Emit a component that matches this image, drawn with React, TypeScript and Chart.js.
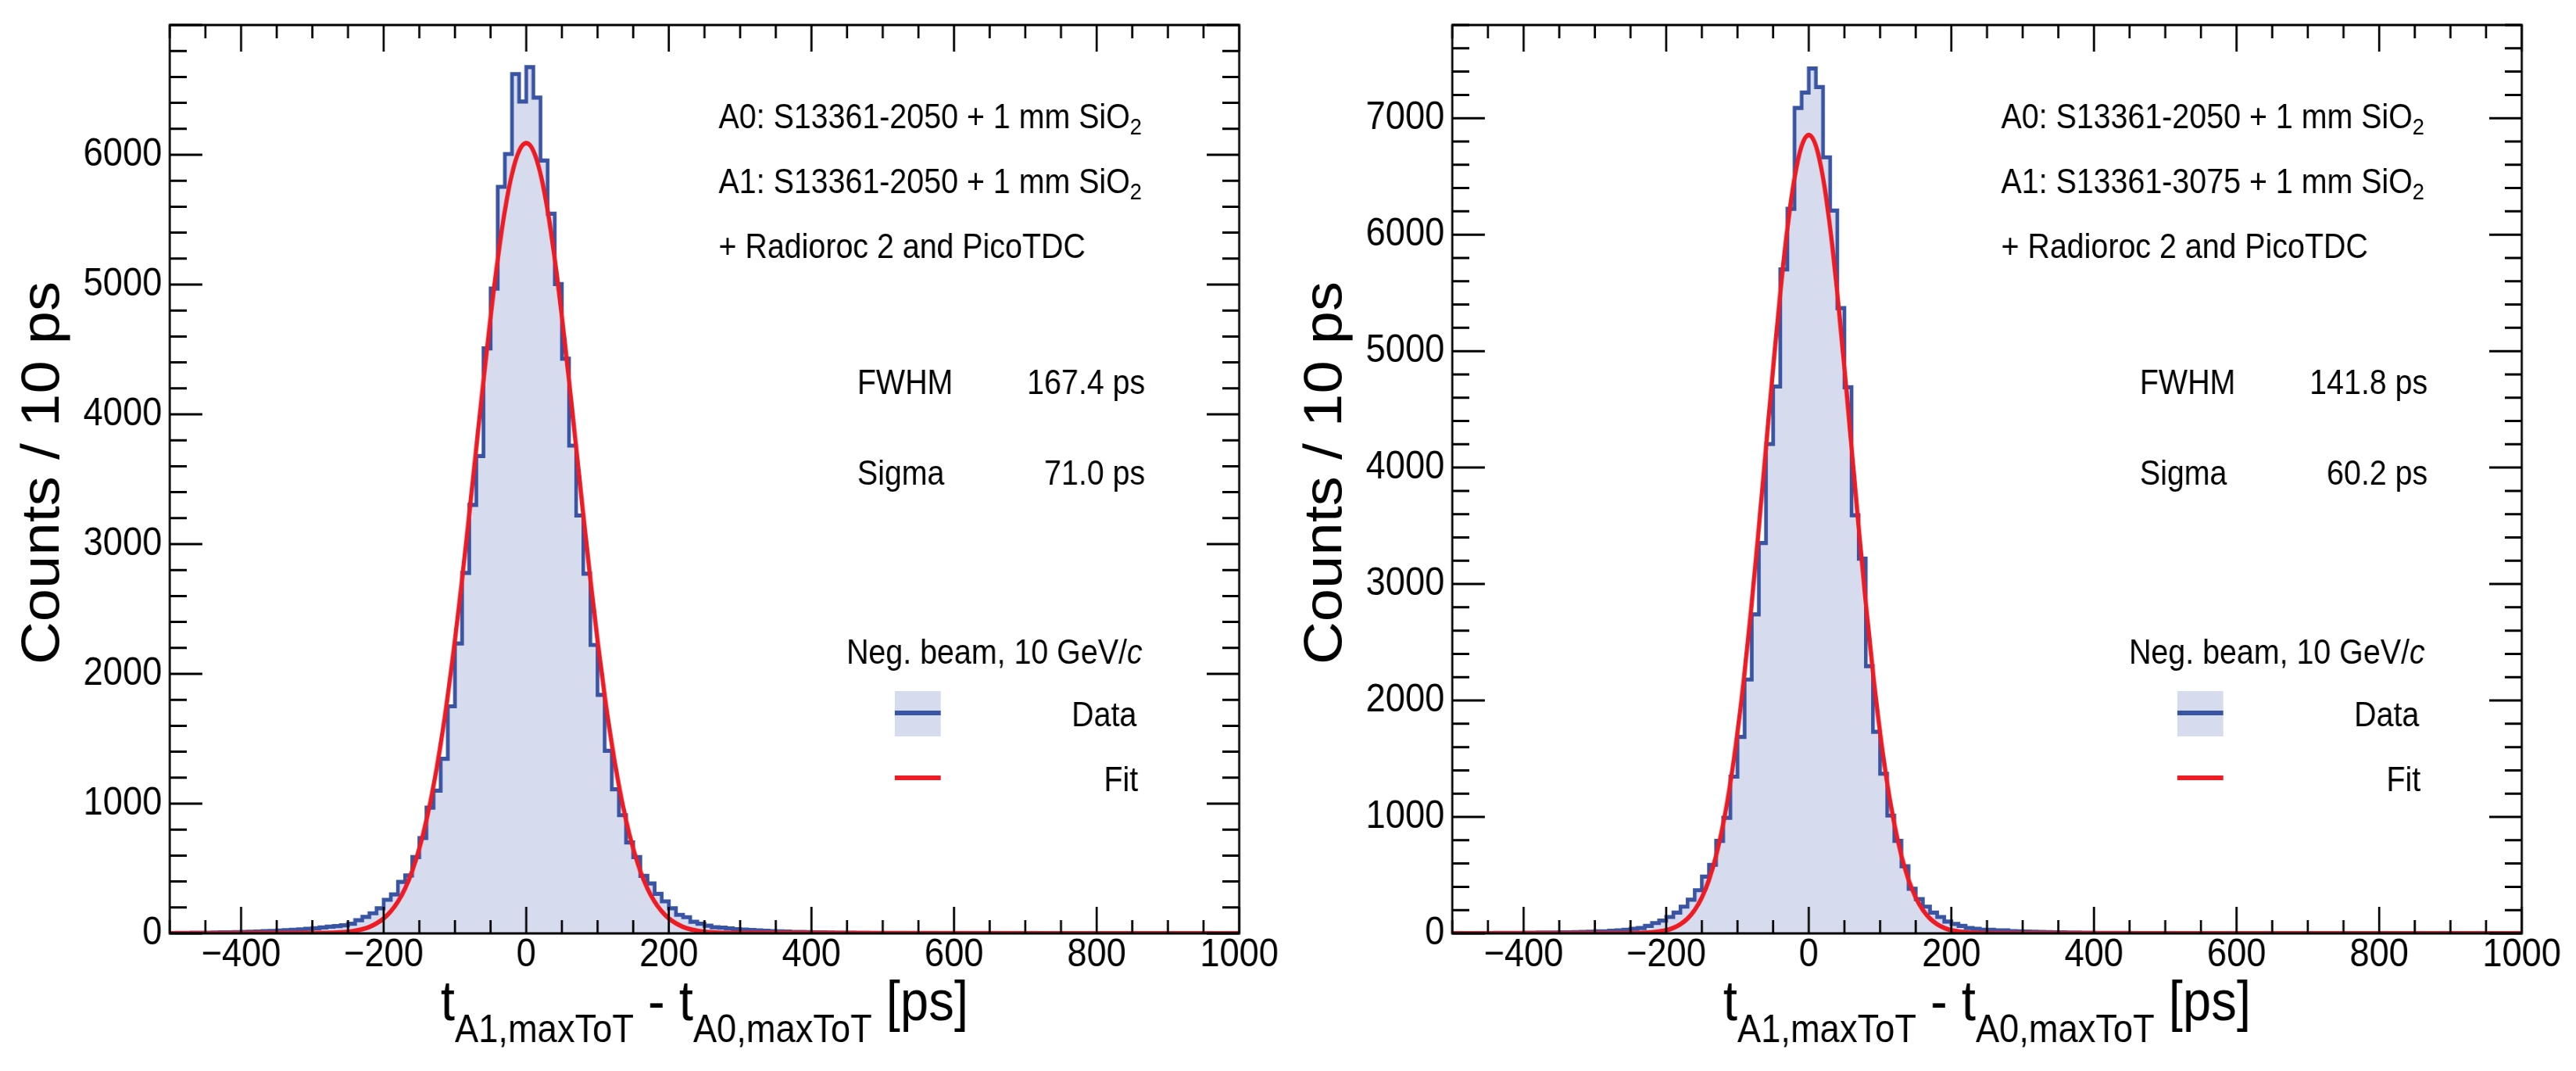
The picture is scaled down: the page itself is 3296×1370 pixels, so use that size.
import { useEffect, useRef } from 'react'
import { Chart, registerables } from 'chart.js'

Chart.register(...registerables)

// ---- data (10 ps bins from -500 ps to 1000 ps) ----
const BIN_START = -500
const BIN_WIDTH = 10
const X_MIN = -500
const X_MAX = 1000
const X_TICKS = [-400, -200, 0, 200, 400, 600, 800, 1000]
const X_MAJOR_STEP = 200
const X_MINOR_STEP = 50
const Y_MAJOR_STEP = 1000
const Y_MINOR_STEP = 200

const LEFT_Y_MAX = 7000
const LEFT_Y_TICKS = [0, 1000, 2000, 3000, 4000, 5000, 6000]
const LEFT_COUNTS = [
  3, 4, 4, 5, 6, 6, 7, 8, 9, 10,
  12, 13, 15, 17, 19, 22, 25, 28, 31, 35,
  40, 46, 52, 56, 62, 74, 102, 127, 155, 194,
  259, 301, 397, 447, 588, 735, 969, 1100, 1346, 1750,
  2234, 2778, 3302, 3678, 4508, 4969, 5753, 6006, 6622, 6410,
  6675, 6440, 5956, 5546, 5004, 4428, 3759, 3221, 2772, 2223,
  1838, 1407, 1111, 911, 701, 588, 443, 385, 305, 247,
  194, 143, 125, 90, 74, 59, 48, 44, 38, 33,
  30, 26, 23, 20, 18, 16, 14, 12, 11, 10,
  9, 8, 7, 6, 6, 5, 4, 4, 3, 3,
  3, 2, 2, 2, 2, 1, 1, 1, 1, 1,
  1, 1, 1, 1, 0, 1, 0, 0, 1, 0,
  0, 0, 0, 0, 0, 0, 0, 0, 0, 0,
  0, 0, 0, 0, 0, 0, 0, 0, 0, 0,
  0, 0, 0, 0, 0, 0, 0, 0, 0, 0,
]

const RIGHT_Y_MAX = 7800
const RIGHT_Y_TICKS = [0, 1000, 2000, 3000, 4000, 5000, 6000, 7000]
const RIGHT_COUNTS = [
  2, 2, 2, 3, 3, 3, 4, 4, 5, 5,
  6, 6, 7, 8, 8, 9, 10, 11, 13, 15,
  18, 18, 22, 26, 32, 39, 46, 64, 89, 110,
  141, 179, 230, 289, 371, 487, 589, 794, 992, 1346,
  1687, 2180, 2739, 3352, 4202, 4696, 5702, 6222, 7087, 7220,
  7426, 7267, 6664, 6207, 5369, 4689, 3590, 3218, 2295, 1731,
  1371, 1012, 794, 576, 384, 294, 230, 179, 141, 102,
  81, 64, 46, 39, 31, 31, 26, 26, 20, 18,
  16, 14, 12, 11, 10, 9, 8, 7, 6, 6,
  5, 5, 4, 4, 4, 3, 3, 3, 2, 2,
  2, 2, 2, 1, 1, 1, 1, 1, 1, 1,
  1, 1, 0, 1, 0, 0, 1, 0, 0, 0,
  0, 0, 0, 0, 0, 0, 0, 0, 0, 0,
  0, 0, 0, 0, 0, 0, 0, 0, 0, 0,
  0, 0, 0, 0, 0, 0, 0, 0, 0, 0,
]

// fit curve read at -280 ... 280 ps every 10 ps (zero outside)
const FIT_START = -280
const FIT_STEP = 10
const LEFT_FIT = [
  3, 4, 7, 12, 20, 32, 50, 77, 115, 170, 245, 346, 480, 654, 872, 1139, 1460, 1834, 2259, 2727,
  3228, 3746, 4261, 4753, 5196, 5570, 5853, 6030, 6090, 6030, 5853, 5570, 5196, 4753, 4261, 3746,
  3228, 2727, 2259, 1834, 1460, 1139, 872, 654, 480, 346, 245, 170, 115, 77, 50, 32, 20, 12, 7, 4, 3,
]
const RIGHT_FIT = [
  0, 0, 0, 1, 2, 5, 9, 16, 27, 47, 79, 127, 201, 308, 459, 666, 940, 1292, 1726, 2243,
  2836, 3487, 4172, 4856, 5498, 6055, 6488, 6762, 6856, 6762, 6488, 6055, 5498, 4856, 4172, 3487,
  2836, 2243, 1726, 1292, 940, 666, 459, 308, 201, 127, 79, 47, 27, 16, 9, 5, 2, 1, 0, 0, 0,
]

const LEFT_TEXT = {
  a0: 'A0: S13361-2050 + 1 mm SiO',
  a1: 'A1: S13361-2050 + 1 mm SiO',
  fwhm: '167.4 ps',
  sigma: '71.0 ps',
}
const RIGHT_TEXT = {
  a0: 'A0: S13361-2050 + 1 mm SiO',
  a1: 'A1: S13361-3075 + 1 mm SiO',
  fwhm: '141.8 ps',
  sigma: '60.2 ps',
}

// ---- look ----
const FONT = "'Liberation Sans', Arial, Helvetica, sans-serif"
const BLUE = '#3a54a4'
const FILL = '#d7dbee'
const RED = '#ed1c24'
const SQUEEZE = 0.905
const PANEL_W = 1813
const PANEL_H = 1370
const FRAME_LEFT = 240
const FRAME_RIGHT = 1752
const FRAME_TOP = 32
const FRAME_BOTTOM = 1194

interface PanelSpec {
  counts: number[]
  fit: number[]
  yMax: number
  yTicks: number[]
  text: { a0: string; a1: string; fwhm: string; sigma: string }
}

type Part = { t: string; size: number; dy?: number; italic?: boolean }

function drawParts(ctx: CanvasRenderingContext2D, parts: Part[], x: number, y: number, align: 'left' | 'right' | 'center') {
  const fontOf = (p: Part) => `${p.italic ? 'italic ' : ''}${p.size}px ${FONT}`
  const widths = parts.map((p) => {
    ctx.font = fontOf(p)
    return ctx.measureText(p.t).width
  })
  const total = widths.reduce((a, b) => a + b, 0)
  let cx = align === 'left' ? x : align === 'right' ? x - total : x - total / 2
  ctx.textAlign = 'left'
  ctx.textBaseline = 'alphabetic'
  parts.forEach((p, i) => {
    ctx.font = fontOf(p)
    ctx.fillText(p.t, cx, y + (p.dy ?? 0))
    cx += widths[i]
  })
}

function decorPlugin(spec: PanelSpec) {
  return {
    id: 'rootDecor',
    afterDatasetsDraw(chart: Chart) {
      const { ctx, chartArea: a } = chart
      const xs = chart.scales.x
      const ys = chart.scales.y
      ctx.save()
      ctx.strokeStyle = '#000'
      ctx.lineWidth = 3
      ctx.beginPath()
      for (let v = X_MIN; v <= X_MAX; v += X_MINOR_STEP) {
        const px = xs.getPixelForValue(v)
        const len = v % X_MAJOR_STEP === 0 ? 34 : 17
        ctx.moveTo(px, a.bottom)
        ctx.lineTo(px, a.bottom - len)
        ctx.moveTo(px, a.top)
        ctx.lineTo(px, a.top + len)
      }
      for (let v = 0; v <= spec.yMax; v += Y_MINOR_STEP) {
        const py = ys.getPixelForValue(v)
        const len = v % Y_MAJOR_STEP === 0 ? 46 : 24
        ctx.moveTo(a.left, py)
        ctx.lineTo(a.left + len, py)
        ctx.moveTo(a.right, py)
        ctx.lineTo(a.right - len, py)
      }
      ctx.stroke()
      ctx.strokeRect(a.left, a.top, a.right - a.left, a.bottom - a.top)
      ctx.restore()
    },
    afterDraw(chart: Chart) {
      const { ctx, chartArea: a } = chart
      ctx.save()
      ctx.fillStyle = '#000'
      const s = 43.5
      drawParts(ctx, [{ t: spec.text.a0, size: s }, { t: '2', size: 30, dy: 8 }], 1016, 164, 'left')
      drawParts(ctx, [{ t: spec.text.a1, size: s }, { t: '2', size: 30, dy: 8 }], 1016, 247, 'left')
      drawParts(ctx, [{ t: '+ Radioroc 2 and PicoTDC', size: s }], 1016, 330, 'left')
      drawParts(ctx, [{ t: 'FWHM', size: s }], 1212, 504, 'left')
      drawParts(ctx, [{ t: spec.text.fwhm, size: s }], 1619, 504, 'right')
      drawParts(ctx, [{ t: 'Sigma', size: s }], 1212, 620, 'left')
      drawParts(ctx, [{ t: spec.text.sigma, size: s }], 1619, 620, 'right')
      drawParts(ctx, [{ t: 'Neg. beam, 10 GeV/', size: s }, { t: 'c', size: s, italic: true }], 1615, 849, 'right')
      drawParts(ctx, [{ t: 'Data', size: s }], 1607, 929, 'right')
      drawParts(ctx, [{ t: 'Fit', size: s }], 1609, 1012, 'right')

      // legend symbols
      ctx.fillStyle = FILL
      ctx.fillRect(1265, 884, 65, 58)
      ctx.lineWidth = 6
      ctx.strokeStyle = BLUE
      ctx.beginPath()
      ctx.moveTo(1265, 912)
      ctx.lineTo(1330, 912)
      ctx.stroke()
      ctx.strokeStyle = RED
      ctx.beginPath()
      ctx.moveTo(1265, 995)
      ctx.lineTo(1330, 995)
      ctx.stroke()

      // axis titles
      ctx.fillStyle = '#000'
      drawParts(
        ctx,
        [
          { t: 't', size: 72 },
          { t: 'A1,maxToT', size: 50, dy: 28 },
          { t: ' - ', size: 72 },
          { t: 't', size: 72 },
          { t: 'A0,maxToT', size: 50, dy: 28 },
          { t: ' [ps]', size: 72 },
        ],
        (a.left + a.right) / 2,
        1305,
        'center'
      )
      ctx.translate(83, 605)
      ctx.rotate(-Math.PI / 2)
      drawParts(ctx, [{ t: 'Counts / 10 ps', size: 76 }], 0, 0, 'center')
      ctx.restore()
    },
  }
}

const tickLabel = (v: number) => (v < 0 ? '\u2212' + Math.abs(v) : String(v))

function Panel({ spec, left }: { spec: PanelSpec; left: number }) {
  const canvasRef = useRef<HTMLCanvasElement>(null)

  useEffect(() => {
    if (!canvasRef.current) return
    const hist = spec.counts.flatMap((c, i) => {
      const x0 = BIN_START + i * BIN_WIDTH
      return [
        { x: x0, y: c },
        { x: x0 + BIN_WIDTH, y: c },
      ]
    })
    const fit = [
      { x: X_MIN, y: 0 },
      ...spec.fit.map((v, i) => ({ x: FIT_START + i * FIT_STEP, y: v })),
      { x: X_MAX, y: 0 },
    ]

    const chart = new Chart(canvasRef.current, {
      type: 'line',
      data: {
        datasets: [
          {
            label: 'Fit',
            data: fit,
            borderColor: RED,
            borderWidth: 6,
            pointRadius: 0,
            cubicInterpolationMode: 'monotone',
            fill: false,
            order: 0,
          },
          {
            label: 'Data',
            data: hist,
            borderColor: BLUE,
            backgroundColor: FILL,
            borderWidth: 5.2,
            borderJoinStyle: 'miter',
            pointRadius: 0,
            tension: 0,
            fill: 'origin',
            order: 1,
          },
        ],
      },
      options: {
        animation: false,
        responsive: true,
        maintainAspectRatio: false,
        events: [],
        layout: { padding: { left: 0, right: PANEL_W - FRAME_RIGHT, top: FRAME_TOP, bottom: 0 } },
        plugins: { legend: { display: false }, tooltip: { enabled: false } },
        scales: {
          x: {
            type: 'linear',
            min: X_MIN,
            max: X_MAX,
            afterBuildTicks: (s: any) => {
              s.ticks = X_TICKS.map((v) => ({ value: v }))
            },
            afterFit: (s: any) => {
              s.height = PANEL_H - FRAME_BOTTOM
              s.paddingLeft = 0
              s.paddingRight = 0
            },
            grid: { display: false, drawTicks: false },
            border: { display: false },
            ticks: {
              color: '#000',
              font: { size: 50, family: FONT },
              padding: -2,
              autoSkip: false,
              maxRotation: 0,
              minRotation: 0,
              callback: (v: any) => tickLabel(Number(v)),
            },
          },
          y: {
            type: 'linear',
            min: 0,
            max: spec.yMax,
            afterBuildTicks: (s: any) => {
              s.ticks = spec.yTicks.map((v) => ({ value: v }))
            },
            afterFit: (s: any) => {
              s.width = FRAME_LEFT
              s.paddingTop = 0
              s.paddingBottom = 0
            },
            grid: { display: false, drawTicks: false },
            border: { display: false },
            ticks: {
              color: '#000',
              font: { size: 50, family: FONT },
              padding: 11,
              autoSkip: false,
              callback: (v: any) => String(v),
            },
          },
        },
      },
      plugins: [decorPlugin(spec)],
    } as any)

    return () => {
      chart.destroy()
    }
  }, [spec])

  return (
    <div
      style={{
        position: 'absolute',
        left,
        top: 0,
        width: PANEL_W,
        height: PANEL_H,
        transform: `scaleX(${SQUEEZE})`,
        transformOrigin: '0 0',
      }}
    >
      <canvas ref={canvasRef} />
    </div>
  )
}

const LEFT_SPEC: PanelSpec = { counts: LEFT_COUNTS, fit: LEFT_FIT, yMax: LEFT_Y_MAX, yTicks: LEFT_Y_TICKS, text: LEFT_TEXT }
const RIGHT_SPEC: PanelSpec = { counts: RIGHT_COUNTS, fit: RIGHT_FIT, yMax: RIGHT_Y_MAX, yTicks: RIGHT_Y_TICKS, text: RIGHT_TEXT }

export default function App() {
  return (
    <div
      style={{
        position: 'absolute',
        left: 0,
        top: 0,
        width: 3296,
        height: 1370,
        background: '#fff',
        overflow: 'hidden',
      }}
    >
      <Panel spec={LEFT_SPEC} left={0} />
      <Panel spec={RIGHT_SPEC} left={1641} />
    </div>
  )
}
